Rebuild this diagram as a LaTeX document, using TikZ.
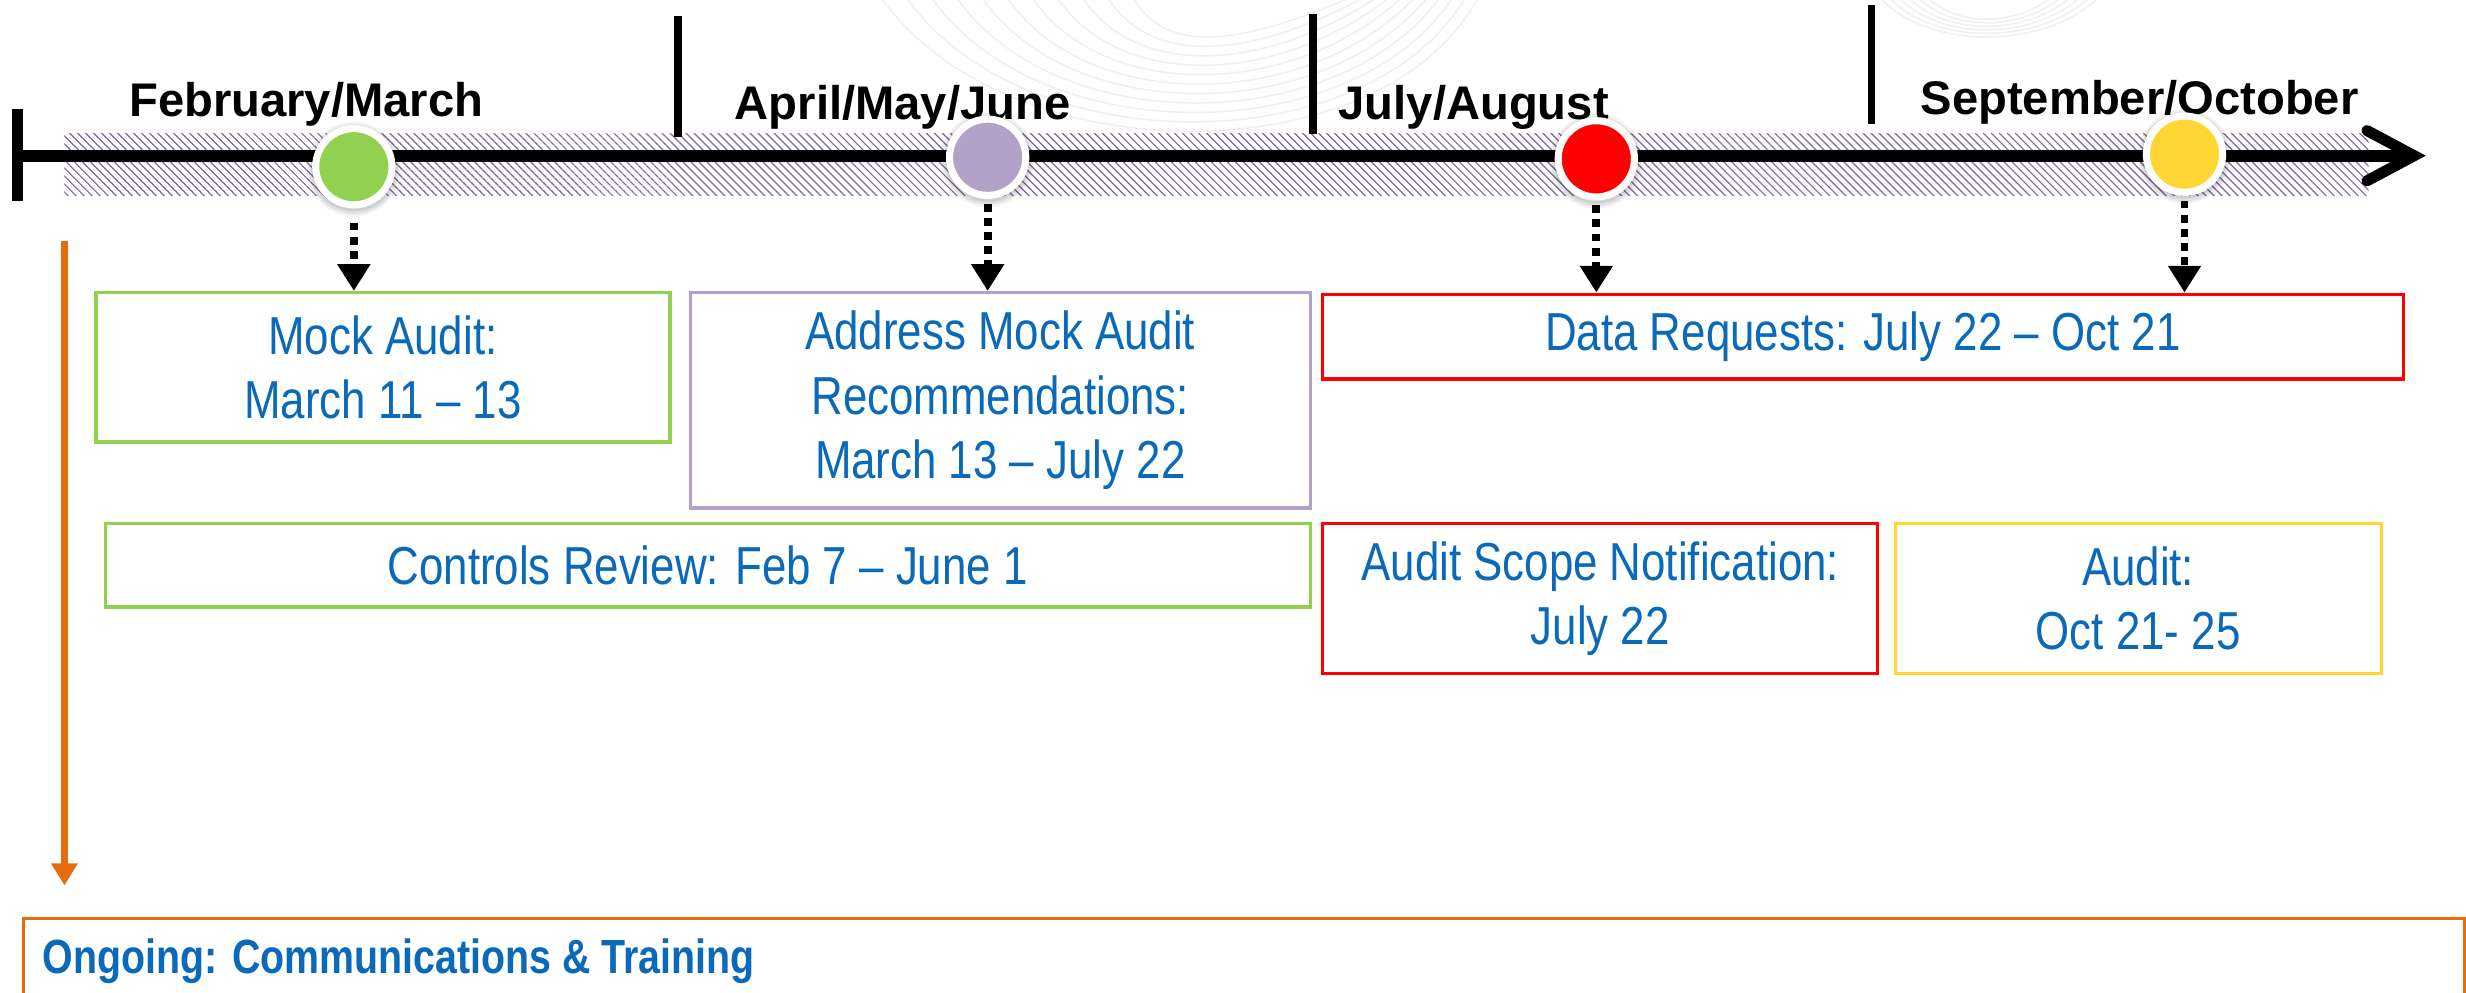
\documentclass[tikz,border=0pt]{standalone}
\usepackage{fontspec}
\setmainfont{Liberation Sans}
\newfontfamily\narrowfont[FakeStretch=0.82]{Liberation Sans}
\usetikzlibrary{arrows.meta,patterns.meta}
\definecolor{cgreen}{RGB}{146,208,80}
\definecolor{cpurple}{RGB}{179,162,199}
\definecolor{cred}{RGB}{255,0,0}
\definecolor{cyellow}{RGB}{255,214,51}
\definecolor{cblue}{RGB}{10,105,185}
\definecolor{corange}{RGB}{228,108,10}
\definecolor{hatchc}{RGB}{128,100,162}
\begin{document}
\begin{tikzpicture}[x=1pt,y=-1pt,
  box/.style={draw, line width=2pt, inner sep=0pt, anchor=north west, align=center,
    text=cblue, font=\narrowfont\fontsize{34}{41}\selectfont},
  period/.style={anchor=base west, inner sep=0pt, font=\bfseries\fontsize{30}{36}\selectfont},
  milestone/.style={circle, minimum size=48.5pt, inner sep=0pt, draw=white, line width=4.5pt},
  dotarr/.style={line width=5pt, dash pattern=on 5pt off 4pt, -{Triangle[length=17pt,width=20pt]}},
  swoosh/.style={draw=black!6, line width=1pt},
  divider/.style={line width=5pt}]
\path[use as bounding box, clip] (0,0) rectangle (1568,631);
\fill[white] (0,0) rectangle (1568,631);
% faint background swoosh
\foreach \i in {0,...,10} {
  \draw[swoosh] ({560+16*\i},-2) .. controls ({640+10*\i},{112-8*\i}) and ({880-10*\i},{112-8*\i}) .. ({940-8*\i},-2);
}
\foreach \i in {0,...,5} {
  \draw[swoosh] ({1195+6*\i},-2) .. controls ({1225+4*\i},{32-3*\i}) and ({1300-4*\i},{32-3*\i}) .. ({1335-6*\i},-2);
}
% hatched band
\fill[pattern={Lines[angle=-45,distance=3.6pt,line width=0.75pt]}, pattern color=hatchc] (41,85) rectangle (1506,124);
% main axis
\draw[line width=7pt] (11,69) -- (11,128);
\draw[line width=7.5pt] (11,99) -- (1531,99);
\draw[line width=7pt, line cap=round, line join=miter] (1505,83) -- (1535,99) -- (1505,115);
% dividers
\draw[divider] (431,10) -- (431,87);
\draw[divider] (835,9) -- (835,85);
\draw[divider] (1190,3) -- (1190,79);
% period labels
\node[period] (p1) at (82,74) {February/March};
\node[period] (p2) at (467,76) {April/May/June};
\node[period] (p3) at (851,76) {July/August};
\node[period] (p4) at (1221,73) {September/October};
% milestones
\foreach \n/\x/\y/\c in {c1/225/106/cgreen, c2/628/100/cpurple, c3/1015/101/cred, c4/1389/98/cyellow} {
  \fill[black, opacity=0.05] (\x,\y+1.5) circle (30pt);
  \fill[black, opacity=0.07] (\x,\y+1.5) circle (28.5pt);
  \fill[black, opacity=0.08] (\x,\y+1) circle (27.3pt);
  \node[milestone, fill=\c] (\n) at (\x,\y) {};
}
% boxes
\node[box, draw=cgreen, minimum width=365pt, minimum height=95pt] (b1) at (60,185) {Mock Audit:\\March 11 – 13};
\node[box, draw=cpurple, minimum width=394pt, minimum height=137pt] (b2) at (438,185) {Address Mock Audit\\Recommendations:\\March 13 – July 22};
\node[box, draw=cred, minimum width=687pt, minimum height=54pt] (b3) at (840,186) {Data Requests: July 22 – Oct 21};
\node[box, draw=cgreen, minimum width=766pt, minimum height=53pt] (b4) at (66,332) {Controls Review: Feb 7 – June 1};
\node[box, draw=cred, minimum width=353pt, minimum height=95pt] (b5) at (840,332) {Audit Scope Notification:\\July 22};
\node[box, draw=cyellow, minimum width=309pt, minimum height=95pt] (b6) at (1204,332) {Audit:\\Oct 21- 25};
% dotted arrows
\draw[dotarr] ([yshift=-9pt]c1.south) -- (c1.south |- b1.north);
\draw[dotarr] ([yshift=-3pt]c2.south) -- (c2.south |- b2.north);
\draw[dotarr] ([yshift=-3pt]c3.south) -- (c3.south |- b3.north);
\draw[dotarr] ([yshift=-3pt]c4.south) -- (c4.south |- b3.north);
% ongoing
\node[draw=corange, line width=2pt, anchor=north west, minimum width=1552pt, minimum height=70pt, inner sep=0pt] (ongoing) at (14,583) {};
\node[anchor=base west, inner sep=0pt, text=cblue, font=\narrowfont\bfseries\fontsize{30.5}{36}\selectfont] (ongtext) at (27,619) {Ongoing: Communications \& Training};
\coordinate (os) at (41,153);
\coordinate (oe) at (41,563);
\draw[line width=5pt, corange, -{Triangle[length=14pt,width=16pt]}] (os) -- (oe);
\end{tikzpicture}
\end{document}
